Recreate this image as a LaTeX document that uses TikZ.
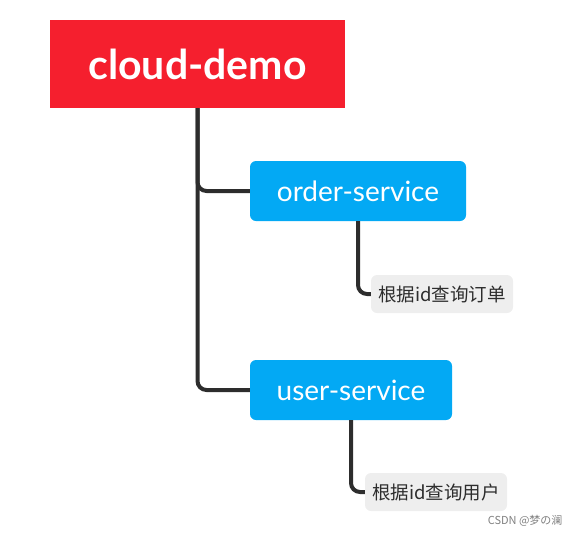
\documentclass[tikz,border=0pt]{standalone}
\usepackage{fontspec}
\setmainfont{Lato}
\newfontfamily\cjk{Noto Sans CJK SC}
\definecolor{rootred}{RGB}{245,31,46}
\definecolor{svcblue}{RGB}{3,169,244}
\definecolor{notegray}{RGB}{238,238,238}
\definecolor{linegray}{RGB}{45,45,45}
\tikzset{
  root/.style={fill=rootred, text=white, font=\fontsize{41}{41}\selectfont\bfseries, minimum width=295pt, minimum height=88pt, inner sep=0pt},
  svc/.style={fill=svcblue, text=white, rounded corners=6pt, font=\fontsize{28}{28}\selectfont, minimum height=60pt, inner sep=0pt},
  note/.style={fill=notegray, text=linegray, rounded corners=6pt, font=\cjk\fontsize{18.5}{18.5}\selectfont, minimum width=142pt, minimum height=38pt, inner sep=0pt},
  link/.style={draw=linegray, line width=4pt, rounded corners=9pt}
}
\begin{document}
\begin{tikzpicture}[x=1pt,y=-1pt]
  \useasboundingbox (0,0) rectangle (581,536);
  \node[root] (0) at (197.5,64) {cloud-demo};
  \node[svc, minimum width=216pt] (1) at (358,191) {order-service};
  \node[note] (2) at (442,294) {根据id查询订单};
  \node[svc, minimum width=202pt] (3) at (351,390) {user-service};
  \node[note] (4) at (436,492) {根据id查询用户};
  \draw[link] (0.south) |- (1.west);
  \draw[link] (0.south) |- (3.west);
  \draw[link] (1.south) |- (2.west);
  \draw[link] (3.south) |- (4.west);
  \node[text=gray, font=\cjk\fontsize{11}{11}\selectfont, anchor=east] (5) at (566,521) {CSDN @梦の澜};
\end{tikzpicture}
\end{document}
